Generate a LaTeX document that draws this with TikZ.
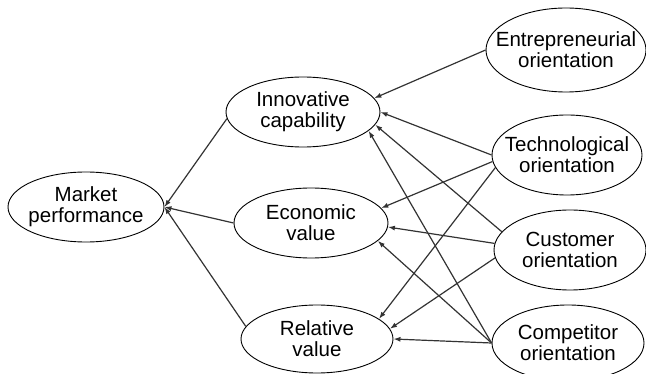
\documentclass[tikz,border=0pt]{standalone}
\usepackage{fontspec}
\setmainfont{Liberation Sans}
\usetikzlibrary{arrows.meta,shapes.geometric}
\begin{document}
\begin{tikzpicture}[x=1pt, y=-1pt,
		var/.style={draw, line width=0.9pt, ellipse, inner sep=-20pt, align=center, font=\fontsize{20.5}{21}\selectfont},
		link/.style={draw=black!80, line width=1.2pt, -{Latex[length=7pt,width=5pt]}}]
			\useasboundingbox (0,0) rectangle (646,374);
			\node[var, minimum width=156, minimum height=70] (market) at (86,207) {Market\\performance};
			\node[var, minimum width=154, minimum height=70] (innov) at (303,112) {Innovative\\capability};
			\node[var, minimum width=154, minimum height=70] (econ) at (311,223) {Economic\\value};
			\node[var, minimum width=152, minimum height=68] (rel) at (317,339) {Relative\\value};
			\node[var, minimum width=160, minimum height=84] (entr) at (566,50) {Entrepreneurial\\orientation};
			\node[var, minimum width=150, minimum height=80] (tech) at (567,155) {Technological\\orientation};
			\node[var, minimum width=152, minimum height=80] (cust) at (570,250) {Customer\\orientation};
			\node[var, minimum width=152, minimum height=76] (comp) at (568,343) {Competitor\\orientation};
			\foreach \a/\b in {innov.185/market.east, econ.west/market.east, rel.170/market.east}{
				\draw[link] (\a) -- (\b);
			}
			\foreach \a/\b in {entr.west/innov.11, tech.west/innov.east, cust.165/innov.-10, comp.west/innov.-16}{
				\draw[link] (\a) -- (\b);
			}
			\foreach \a/\b in {tech.185/econ.12, cust.175/econ.-3, comp.west/econ.-15}{
				\draw[link] (\a) -- (\b);
			}
			\foreach \a/\b in {tech.190/rel.18, cust.186/rel.8, comp.west/rel.east}{
				\draw[link] (\a) -- (\b);
			}
		\end{tikzpicture}
\end{document}
